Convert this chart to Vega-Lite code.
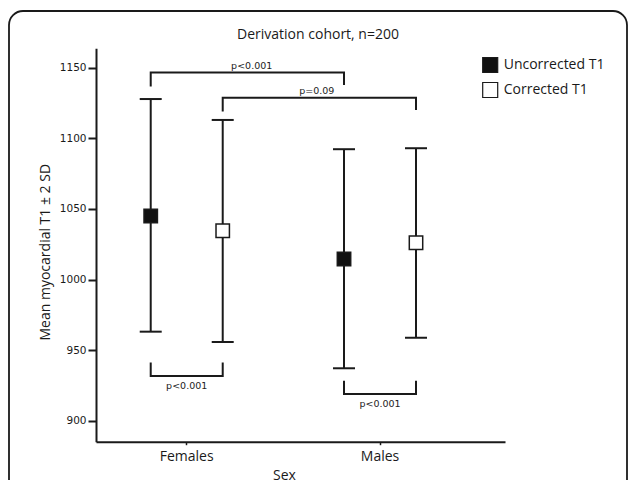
{
  "$schema": "https://vega.github.io/schema/vega-lite/v6.json",
  "width": 618,
  "height": 484,
  "autosize": {"type": "none"},
  "padding": {"left": 9, "top": 11, "right": 2, "bottom": -15},
  "background": "white",
  "title": {"text": "Derivation cohort, n=200", "offset": -31, "anchor": "middle", "frame": "group", "font": "Open Sans", "fontSize": 14, "fontWeight": "normal", "color": "#1a1a1a"},
  "config": {
    "view": {"stroke": "#1a1a1a", "strokeWidth": 1.8, "cornerRadius": 14, "fill": "white"},
    "axis": {"grid": false, "domainColor": "#1a1a1a", "tickColor": "#1a1a1a", "labelColor": "#1a1a1a", "titleColor": "#1a1a1a"}
  },
  "datasets": {
    "stats": [
      {"Sex": "Females", "Correction": "Uncorrected T1", "mean": 1045, "lower": 963.2, "upper": 1127.8},
      {"Sex": "Females", "Correction": "Corrected T1", "mean": 1034.6, "lower": 955.9, "upper": 1113.0},
      {"Sex": "Males", "Correction": "Uncorrected T1", "mean": 1014.6, "lower": 937.3, "upper": 1092.3},
      {"Sex": "Males", "Correction": "Corrected T1", "mean": 1026.1, "lower": 958.9, "upper": 1093.0}
    ],
    "brackets": [
      {"id": "b1", "ord": 1, "Sex": "Females", "Correction": "Uncorrected T1", "val": 1136.6},
      {"id": "b1", "ord": 2, "Sex": "Females", "Correction": "Uncorrected T1", "val": 1146.5},
      {"id": "b1", "ord": 3, "Sex": "Males", "Correction": "Uncorrected T1", "val": 1146.5},
      {"id": "b1", "ord": 4, "Sex": "Males", "Correction": "Uncorrected T1", "val": 1137.8},
      {"id": "b2", "ord": 1, "Sex": "Females", "Correction": "Corrected T1", "val": 1118.9},
      {"id": "b2", "ord": 2, "Sex": "Females", "Correction": "Corrected T1", "val": 1128.8},
      {"id": "b2", "ord": 3, "Sex": "Males", "Correction": "Corrected T1", "val": 1128.8},
      {"id": "b2", "ord": 4, "Sex": "Males", "Correction": "Corrected T1", "val": 1120.1},
      {"id": "b3", "ord": 1, "Sex": "Females", "Correction": "Uncorrected T1", "val": 941.3},
      {"id": "b3", "ord": 2, "Sex": "Females", "Correction": "Uncorrected T1", "val": 931.8},
      {"id": "b3", "ord": 3, "Sex": "Females", "Correction": "Corrected T1", "val": 931.8},
      {"id": "b3", "ord": 4, "Sex": "Females", "Correction": "Corrected T1", "val": 941.3},
      {"id": "b4", "ord": 1, "Sex": "Males", "Correction": "Uncorrected T1", "val": 928.5},
      {"id": "b4", "ord": 2, "Sex": "Males", "Correction": "Uncorrected T1", "val": 919.1},
      {"id": "b4", "ord": 3, "Sex": "Males", "Correction": "Corrected T1", "val": 919.1},
      {"id": "b4", "ord": 4, "Sex": "Males", "Correction": "Corrected T1", "val": 928.5}
    ],
    "bottomLabels": [
      {"Sex": "Females", "val": 924.8, "label": "p<0.001"},
      {"Sex": "Males", "val": 912.0, "label": "p<0.001"}
    ],
    "topLabel1": [{"Sex": "Females", "val": 1151.2, "label": "p<0.001"}],
    "topLabel2": [{"Sex": "Females", "val": 1133.7, "label": "p=0.09"}]
  },
  "layer": [
    {
      "data": {"name": "stats"},
      "mark": {"type": "rule", "strokeWidth": 2, "color": "#1a1a1a"},
      "encoding": {
        "x": {
          "field": "Sex", "type": "nominal",
          "scale": {"domain": ["Females", "Males"], "range": [87, 496], "paddingInner": 0.255, "paddingOuter": 0.1855, "align": 0.261},
          "axis": {"title": "Sex", "titleX": 275, "titleY": 38, "titleAlign": "center", "titleBaseline": "alphabetic", "titleFont": "Open Sans", "titleFontSize": 14, "titleFontWeight": "normal", "labelFont": "Open Sans", "labelFontSize": 14, "labelAngle": 0, "labelPadding": 5, "tickSize": 3, "tickWidth": 1.5, "domainWidth": 2, "offset": -53.3}
        },
        "xOffset": {"field": "Correction", "type": "nominal", "scale": {"domain": ["Uncorrected T1", "Corrected T1"], "paddingInner": 0, "paddingOuter": 0}},
        "y": {
          "field": "lower", "type": "quantitative",
          "scale": {"domain": [885.35, 1163.7], "range": [430.7, 37.3], "nice": false, "zero": false},
          "axis": {"title": "Mean myocardial T1 ± 2 SD", "values": [900, 950, 1000, 1050, 1100, 1150], "format": "d", "offset": -87, "domainWidth": 2, "tickSize": 8, "tickWidth": 2, "labelFont": "DejaVu Sans", "labelFontSize": 10.5, "labelPadding": 2, "titleFont": "Open Sans", "titleFontSize": 14, "titleFontWeight": "normal", "titleX": -51, "titleY": 240.7, "titleAlign": "center", "titleBaseline": "middle", "titleAngle": -90}
        },
        "y2": {"field": "upper"}
      }
    },
    {
      "data": {"name": "stats"},
      "mark": {"type": "tick", "size": 22, "thickness": 2, "color": "#1a1a1a", "opacity": 1},
      "encoding": {
        "x": {"field": "Sex", "type": "nominal"},
        "xOffset": {"field": "Correction", "type": "nominal"},
        "y": {"field": "upper", "type": "quantitative"}
      }
    },
    {
      "data": {"name": "stats"},
      "mark": {"type": "tick", "size": 22, "thickness": 2, "color": "#1a1a1a", "opacity": 1},
      "encoding": {
        "x": {"field": "Sex", "type": "nominal"},
        "xOffset": {"field": "Correction", "type": "nominal"},
        "y": {"field": "lower", "type": "quantitative"}
      }
    },
    {
      "data": {"name": "brackets"},
      "mark": {"type": "line", "strokeWidth": 2, "color": "#1a1a1a", "interpolate": "linear"},
      "encoding": {
        "x": {"field": "Sex", "type": "nominal"},
        "xOffset": {"field": "Correction", "type": "nominal"},
        "y": {"field": "val", "type": "quantitative"},
        "detail": {"field": "id"},
        "order": {"field": "ord", "type": "quantitative"}
      }
    },
    {
      "data": {"name": "stats"},
      "mark": {"type": "point", "shape": "square", "size": 180, "filled": true, "stroke": "#1a1a1a", "strokeWidth": 1.5, "opacity": 1},
      "encoding": {
        "x": {"field": "Sex", "type": "nominal"},
        "xOffset": {"field": "Correction", "type": "nominal"},
        "y": {"field": "mean", "type": "quantitative"},
        "fill": {
          "field": "Correction", "type": "nominal",
          "scale": {"domain": ["Uncorrected T1", "Corrected T1"], "range": ["#111111", "#ffffff"]},
          "legend": {"title": null, "orient": "none", "legendX": 472.7, "legendY": 45.5, "symbolType": "square", "symbolSize": 225, "symbolStrokeColor": "#1a1a1a", "symbolStrokeWidth": 1.2, "labelFont": "Open Sans", "labelFontSize": 14, "labelColor": "#1a1a1a", "labelOffset": 5, "rowPadding": 4, "padding": 0}
        }
      }
    },
    {
      "data": {"name": "bottomLabels"},
      "mark": {"type": "text", "font": "DejaVu Sans", "fontSize": 9.5, "color": "#222", "baseline": "middle", "align": "center"},
      "encoding": {
        "x": {"field": "Sex", "type": "nominal"},
        "y": {"field": "val", "type": "quantitative"},
        "text": {"field": "label"}
      }
    },
    {
      "data": {"name": "topLabel1"},
      "mark": {"type": "text", "font": "DejaVu Sans", "fontSize": 9.5, "color": "#222", "baseline": "middle", "align": "center", "dx": 65},
      "encoding": {
        "x": {"field": "Sex", "type": "nominal"},
        "y": {"field": "val", "type": "quantitative"},
        "text": {"field": "label"}
      }
    },
    {
      "data": {"name": "topLabel2"},
      "mark": {"type": "text", "font": "DejaVu Sans", "fontSize": 9.5, "color": "#222", "baseline": "middle", "align": "center", "dx": 130},
      "encoding": {
        "x": {"field": "Sex", "type": "nominal"},
        "y": {"field": "val", "type": "quantitative"},
        "text": {"field": "label"}
      }
    }
  ]
}
